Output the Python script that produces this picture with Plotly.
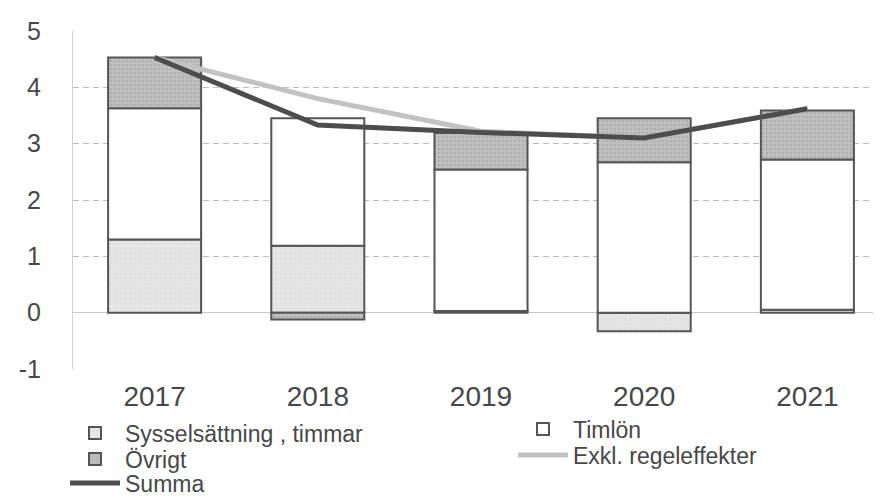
import plotly.graph_objects as go

years = ["2017", "2018", "2019", "2020", "2021"]
sysselsattning = [1.30, 1.19, 0.03, -0.33, 0.05]
timlon = [2.33, 2.26, 2.51, 2.67, 2.67]
ovrigt = [0.90, -0.12, 0.65, 0.78, 0.87]
exkl = [4.53, 3.80, 3.22, 3.10, 3.62]
summa = [4.53, 3.33, 3.20, 3.10, 3.62]
y_ticks = [-1, 0, 1, 2, 3, 4, 5]
y_tick_labels = ["-1", "0", "1", "2", "3", "4", "5"]

FONT = "Liberation Sans, Arial, sans-serif"
TXT = "#474747"
edge = dict(color="#555555", width=2)
W, H = 881, 497

fig = go.Figure()
fig.add_trace(go.Bar(
    x=years, y=sysselsattning, name="Sysselsättning , timmar", legend="legend",
    marker=dict(color="#e4e4e4", line=edge,
                pattern=dict(shape=".", fgcolor="#d4d4d4", bgcolor="#e6e6e6", size=5, solidity=0.2)),
))
fig.add_trace(go.Bar(
    x=years, y=timlon, name="Timlön", legend="legend4",
    marker=dict(color="#ffffff", line=edge),
))
fig.add_trace(go.Bar(
    x=years, y=ovrigt, name="Övrigt", legend="legend2",
    marker=dict(color="#b8b8b8", line=edge,
                pattern=dict(shape=".", fgcolor="#9c9c9c", bgcolor="#c0c0c0", size=4, solidity=0.3)),
))
fig.add_trace(go.Scatter(
    x=years, y=exkl, name="Exkl. regeleffekter", mode="lines", legend="legend5",
    line=dict(color="#c2c2c2", width=5),
))
fig.add_trace(go.Scatter(
    x=years, y=summa, name="Summa", mode="lines", legend="legend3",
    line=dict(color="#4d4d4d", width=5),
))


def leg(px, py):
    return dict(
        xref="container", yref="container",
        x=px / W, y=1 - py / H, xanchor="left", yanchor="middle",
        orientation="h", font=dict(size=23, color=TXT, family=FONT),
        itemwidth=50, bgcolor="rgba(0,0,0,0)", borderwidth=0,
    )


fig.update_layout(
    width=W, height=H,
    barmode="relative",
    bargap=0.43,
    paper_bgcolor="white", plot_bgcolor="white",
    margin=dict(l=65, r=0, t=23, b=136, autoexpand=False),
    font=dict(family=FONT, size=24, color=TXT),
    showlegend=True,
    legend=leg(57, 425),
    legend2=leg(57, 451),
    legend3=leg(57, 475),
    legend4=leg(505, 421),
    legend5=leg(505, 447),
    xaxis=dict(
        range=[-0.5, 4.5], showgrid=False, showline=False, ticks="",
        tickfont=dict(size=28, color=TXT), ticklabelstandoff=8,
    ),
    yaxis=dict(
        range=[-1, 5], tickvals=y_ticks, ticktext=y_tick_labels, showgrid=True,
        gridcolor="#bdbdbd", griddash="6px,4px", gridwidth=1,
        zeroline=True, zerolinecolor="#c8c8c8", zerolinewidth=1,
        showline=True, linecolor="#d0d0d0", linewidth=1,
        ticks="", ticklabelstandoff=26,
        tickfont=dict(size=25, color=TXT),
    ),
)

fig.write_html("out.html")
